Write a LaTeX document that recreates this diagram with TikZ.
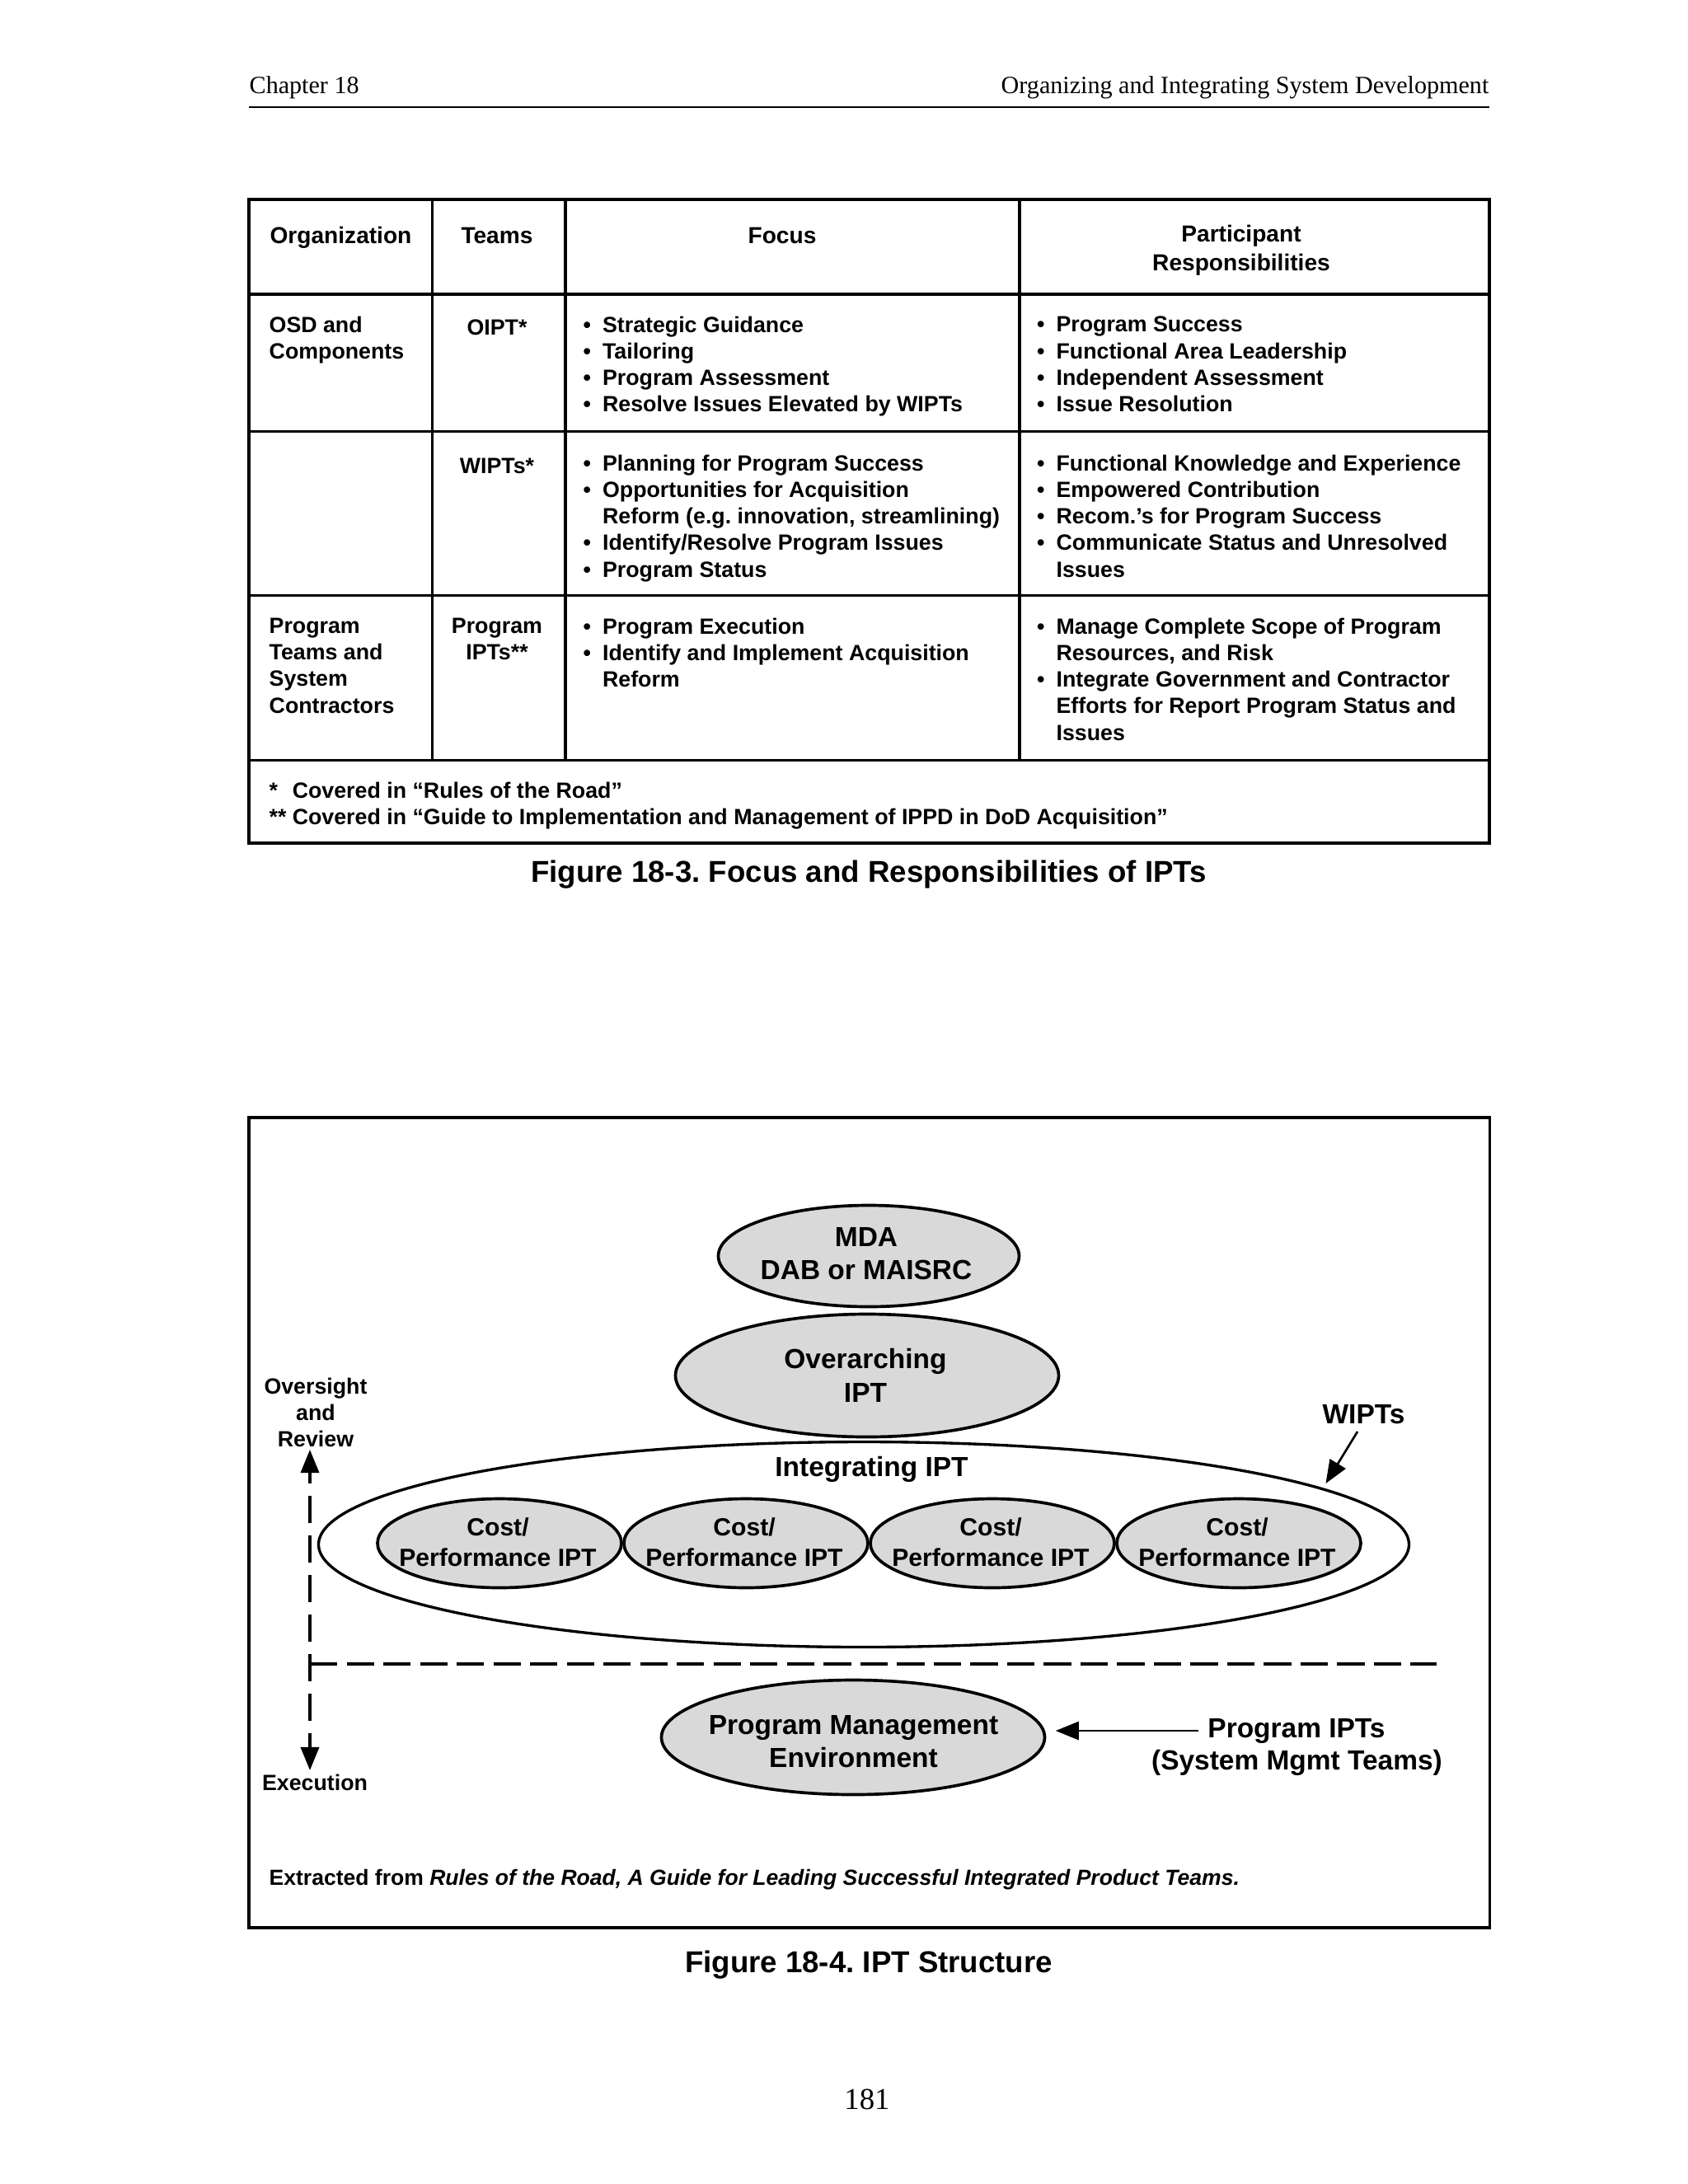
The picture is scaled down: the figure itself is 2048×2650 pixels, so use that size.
\documentclass[tikz,border=0pt]{standalone}
\usepackage{fontspec}
\setmainfont{Liberation Sans}
\newfontfamily\serifhead{Liberation Serif}
\usetikzlibrary{shapes.geometric,arrows.meta}
\definecolor{ellgray}{RGB}{217,217,217}
\newcommand\myBody{\fontsize{8}{9.6}\selectfont\bfseries}
\newcommand\myHead{\fontsize{8.4}{10.5}\selectfont\bfseries}
\newcommand\myCap{\fontsize{10.95}{13}\selectfont\bfseries}
\newcommand\myTen{\fontsize{10}{12}\selectfont\bfseries}
\newcommand\myNine{\fontsize{9}{10.94}\selectfont\bfseries}
\newcommand\myEight{\fontsize{8}{9.6}\selectfont\bfseries}
\newcommand\myExtr{\fontsize{7.93}{9.6}\selectfont\bfseries}
\newcommand\myHdr{\serifhead\fontsize{9}{11}\selectfont}
\newcommand\myPg{\serifhead\fontsize{11}{13}\selectfont}
\newcommand\myBul{\makebox[7pt][l]{\textbullet}}
\newcommand\myInd{\hspace*{7pt}}
\begin{document}
\frenchspacing
\begin{tikzpicture}[x=0.29883pt,y=-0.29883pt,
  tbl/.style={line width=1pt},
  cell/.style={anchor=north west,inner sep=0pt,align=left,font=\myBody,yshift=-1.2pt,execute at begin node=\strut},
  cellc/.style={anchor=north,inner sep=0pt,align=center,font=\myBody,yshift=-1.2pt,execute at begin node=\strut},
  headc/.style={anchor=north,inner sep=0pt,align=center,font=\myHead,execute at begin node=\strut},
  headb/.style={anchor=base,inner sep=0pt,font=\myHead},
  gell/.style={ellipse,draw,line width=1.1pt,fill=ellgray,inner sep=0pt},
  etext/.style={anchor=north,inner sep=0pt,align=center,yshift=-1.2pt,execute at begin node=\strut},
  plain/.style={inner sep=0pt},
  arr/.style={line width=0.8pt,-{Triangle[length=8.4pt,width=6.6pt]}},
  >={Triangle[length=8.4pt,width=6.6pt]}]
\useasboundingbox (0,0) rectangle (2048,2650);
\fill[white] (0,0) rectangle (2048,2650);

% page header
\node[plain,anchor=base west,font=\myHdr] (chap) at (302,113) {Chapter 18};
\node[plain,anchor=base east,font=\myHdr] (runtitle) at (1807,113) {Organizing and Integrating System Development};
\draw[line width=0.8pt] (302,130) -- (1807,130);

% ---------- table ----------
\draw[tbl,line width=1.1pt] (302,242) rectangle (1807,1023);
\foreach \yy in {357,523.5,722.5,922.5} \draw[tbl] (302,\yy) -- (1807,\yy);
\foreach \xx in {524.5,686,1237} \draw[tbl] (\xx,242) -- (\xx,922.5);

\node[headb] (hOrg) at (413.5,295) {Organization};
\node[headb] (hTeams) at (603,295) {Teams};
\node[headb] (hFocus) at (949,295) {Focus};
\node[headc] (hPart) at (1506,272.5) {Participant\\Responsibilities};

\node[cell] (r1org) at (326,379.5) {OSD and\\Components};
\node[cellc] (r1team) at (603,379.5) {OIPT*};
\node[cell] (r1focus) at (707,379.5) {\myBul Strategic Guidance\\\myBul Tailoring\\\myBul Program Assessment\\\myBul Resolve Issues Elevated by WIPTs};
\node[cell] (r1resp) at (1257.5,379.5) {\myBul Program Success\\\myBul Functional Area Leadership\\\myBul Independent Assessment\\\myBul Issue Resolution};

\node[cellc] (r2team) at (603,547.5) {WIPTs*};
\node[cell] (r2focus) at (707,547.5) {\myBul Planning for Program Success\\\myBul Opportunities for Acquisition\\\myInd Reform (e.g. innovation, streamlining)\\\myBul Identify/Resolve Program Issues\\\myBul Program Status};
\node[cell] (r2resp) at (1257.5,547.5) {\myBul Functional Knowledge and Experience\\\myBul Empowered Contribution\\\myBul Recom.’s for Program Success\\\myBul Communicate Status and Unresolved\\\myInd Issues};

\node[cell] (r3org) at (326,745.5) {Program\\Teams and\\System\\Contractors};
\node[cellc] (r3team) at (603,745.5) {Program\\IPTs**};
\node[cell] (r3focus) at (707,745.5) {\myBul Program Execution\\\myBul Identify and Implement Acquisition\\\myInd Reform};
\node[cell] (r3resp) at (1257.5,745.5) {\myBul Manage Complete Scope of Program\\\myInd Resources, and Risk\\\myBul Integrate Government and Contractor\\\myInd Efforts for Report Program Status and\\\myInd Issues};

\node[cell] (fnote) at (326,944.5) {\makebox[8.4pt][l]{*}Covered in “Rules of the Road”\\\makebox[8.4pt][l]{**}Covered in “Guide to Implementation and Management of IPPD in DoD Acquisition”};

\node[plain,anchor=base,font=\myCap] (cap1) at (1054,1070) {Figure 18-3. Focus and Responsibilities of IPTs};

% ---------- diagram ----------
\draw[line width=1.1pt] (302,1356) rectangle (1807.5,2339);

\node[gell,minimum width=109.07pt,minimum height=36.76pt] (mda) at (1054,1524) {};
\node[etext,font=\myTen] (mdaT) at (1051,1484.9) {MDA\\DAB or MAISRC};

\node[gell,minimum width=138.96pt,minimum height=44.53pt] (oipt) at (1052,1669) {};
\node[etext,font=\myTen] (oiptT) at (1050,1631.9) {Overarching\\IPT};

\node[ellipse,draw,line width=1pt,inner sep=0pt,minimum width=395.35pt,minimum height=74.41pt] (integ) at (1048,1874) {};
\node[plain,anchor=base,font=\myTen] (integT) at (1057.5,1791) {Integrating IPT};

\foreach \cx/\nm in {606/c1,905/c2,1204/c3,1503/c4}{
  \node[gell,minimum width=88.45pt,minimum height=32.27pt] (\nm) at (\cx,1872.5) {};
  \node[etext,font=\myNine] (\nm T) at (\cx-2,1837.4) {Cost/\\Performance IPT};
}

\node[gell,minimum width=138.96pt,minimum height=41.54pt] (pme) at (1035,2108) {};
\node[etext,font=\myTen] (pmeT) at (1035.5,2077) {Program Management\\Environment};

% labels
\node[etext,font=\myEight] (ovr) at (383,1667.5) {Oversight\\and\\Review};
\node[plain,anchor=base,font=\myEight] (exe) at (382,2172) {Execution};
\node[plain,anchor=base,font=\myTen] (wipts) at (1654.5,1727) {WIPTs};
\node[plain,anchor=base,font=\myTen] (pipt1) at (1573,2108) {Program IPTs};
\node[plain,anchor=base,font=\myTen] (pipt2) at (1573.5,2147) {(System Mgmt Teams)};

% oversight / execution arrow
\coordinate (ovTip) at (376,1759);
\coordinate (exTip) at (376,2148);
\draw[line width=1pt,dash pattern=on 9.86pt off 4.48pt,dash phase=5.68pt,<->] (ovTip) -- (exTip);

% boundary dashed line
\coordinate (hdA) at (376,2019);
\coordinate (hdB) at (1743,2019);
\draw[line width=1pt,dash pattern=on 9.98pt off 3.32pt] (hdA) -- (hdB);

% WIPTs arrow
\coordinate (wTip) at (1608.5,1800);
\draw[arr] ([shift={(-7.5,9)}]wipts.south) -- (wTip);

% Program IPTs arrow
\draw[arr,shorten >=3.4pt] ([xshift=-3.3pt]pipt1.west) -- (pipt1.west -| pme.east);

\node[plain,anchor=base west,font=\myExtr] (extr) at (326,2287) {Extracted from \textit{Rules of the Road, A Guide for Leading Successful Integrated Product Teams.}};

\node[plain,anchor=base,font=\myCap] (cap2) at (1054,2393) {Figure 18-4. IPT Structure};

\node[plain,anchor=base,font=\myPg] (pgnum) at (1052,2559) {181};
\end{tikzpicture}
\end{document}
